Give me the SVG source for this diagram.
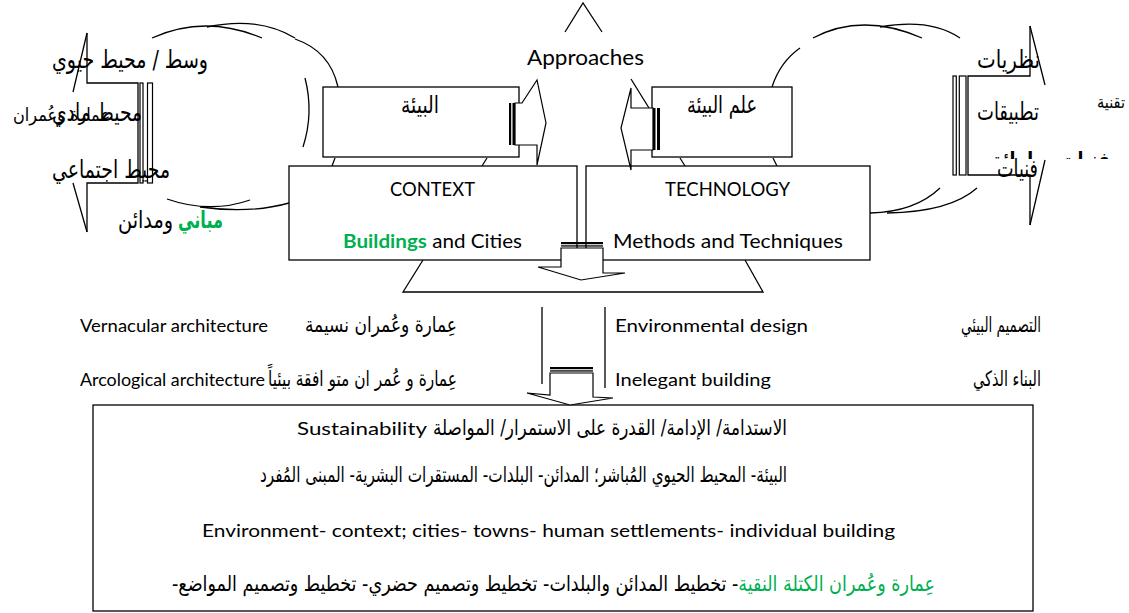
<svg xmlns="http://www.w3.org/2000/svg" width="1129" height="613" viewBox="0 0 1129 613">
<style>
.ln{fill:none;stroke:#000;stroke-width:1.3}
.bx{fill:#fff;stroke:#000;stroke-width:1.3}
.wf{fill:#fff;stroke:#000;stroke-width:1.2}
.st{fill:#000}
.en{font-family:Lato,"Open Sans","Liberation Sans",sans-serif;fill:#000}
.ar{font-family:"DejaVu Sans","Liberation Sans",sans-serif;fill:#000}
.g{fill:#00B050}
.b{font-weight:bold}
</style>
<defs>
<clipPath id="clip-cut"><rect x="980" y="140" width="140" height="19"/></clipPath>
</defs>
<rect x="0" y="0" width="1129" height="613" fill="#fff"/>

<!-- cloud outlines behind the boxes -->
<g id="cloud-left" class="ln">
<path d="M152,38 Q205,14 262,38"/>
<path d="M207,27 Q258,16 295,38"/>
<path d="M295,39 Q330,51 338,87"/>
<path d="M305,78 Q314,113 303,147"/>
<path d="M167,199 Q210,214 250,200"/>
<path d="M200,207 Q250,214 289,203"/>
</g>
<g id="cloud-right" class="ln">
<path d="M813,38 Q862,12 922,38"/>
<path d="M880,27 Q930,18 960,38"/>
<path d="M800,48 Q780,62 772,87"/>
<path d="M870,213 Q915,212 940,188"/>
<path d="M887,213 Q950,212 977,188"/>
</g>
<g id="cloud-centre" class="ln">
<path d="M335,158 L332,166"/>
<path d="M487,158 L482,166"/>
<path d="M680,158 L685,166"/>
<path d="M773,158 L777,166"/>
</g>

<!-- approaches arrow: tip and base -->
<g id="approaches">
<path class="ln" d="M565,32 L583,3 L602,32"/>
<path class="ln" d="M423,260 L403,292 L763,292 L745,260"/>
<text class="en" x="527" y="65" font-size="21" textLength="117" lengthAdjust="spacingAndGlyphs">Approaches</text>
</g>

<!-- left striped arrow with environment labels -->
<g id="node-environment-types">
<path class="ln" d="M87,33 L87,83 L138,83 L138,183 L87,183 L87,232"/>
<path class="ln" d="M87,33 L73,92 M73,183 L87,232"/>
<rect class="wf" x="140" y="83" width="3" height="100"/>
<rect class="wf" x="147.5" y="83" width="5" height="100"/>
<text class="ar" x="208" y="68" font-size="25" text-anchor="end" textLength="156" lengthAdjust="spacingAndGlyphs">وسط / محيط حيوي</text>
<text class="ar" x="110" y="121" font-size="18" text-anchor="end" textLength="97" lengthAdjust="spacingAndGlyphs">عمارة وعُمران</text>
<text class="ar" x="142" y="121" font-size="25" text-anchor="end" textLength="90" lengthAdjust="spacingAndGlyphs">محيط مادي</text>
<text class="ar" x="170" y="178" font-size="25" text-anchor="end" textLength="118" lengthAdjust="spacingAndGlyphs">محيط اجتماعي</text>
<text class="ar g b" x="223" y="228" font-size="24" text-anchor="end" textLength="45" lengthAdjust="spacingAndGlyphs">مباني</text>
<text class="ar" x="173" y="228" font-size="24" text-anchor="end" textLength="55" lengthAdjust="spacingAndGlyphs">ومدائن</text>
</g>

<!-- right striped arrow with technology labels -->
<g id="node-technology-types">
<path class="ln" d="M1030,26 L1030,76 L968,76 L968,175 L1030,175 L1030,225"/>
<path class="ln" d="M1030,26 L1045,85 M1045,160 L1030,225"/>
<rect class="wf" x="953" y="76" width="3.3" height="99"/>
<rect class="wf" x="959.3" y="76" width="6.7" height="99"/>
<text class="ar" x="1040" y="68" font-size="25" text-anchor="end" textLength="63" lengthAdjust="spacingAndGlyphs">نظريات</text>
<text class="ar" x="1039" y="120" font-size="25" text-anchor="end" textLength="62" lengthAdjust="spacingAndGlyphs">تطبيقات</text>
<text class="ar" x="1125" y="108" font-size="17" text-anchor="end" textLength="28" lengthAdjust="spacingAndGlyphs">تقنية</text>
<text class="ar b" x="1110" y="167" font-size="21" text-anchor="end" textLength="123" lengthAdjust="spacingAndGlyphs" clip-path="url(#clip-cut)">فنيات وطرائق</text>
<text class="ar" x="1038" y="177" font-size="25" text-anchor="end" textLength="41" lengthAdjust="spacingAndGlyphs">فنيات</text>
</g>

<!-- environment box -->
<g id="node-environment">
<rect class="bx" x="323" y="87" width="196" height="70"/>
<text class="ar" x="420" y="113" font-size="24" text-anchor="middle" textLength="38" lengthAdjust="spacingAndGlyphs">البيئة</text>
</g>

<!-- environmental science box -->
<g id="node-env-science">
<rect class="bx" x="652" y="87" width="140" height="70"/>
<text class="ar" x="722" y="113" font-size="24" text-anchor="middle" textLength="70" lengthAdjust="spacingAndGlyphs">علم البيئة</text>
</g>

<!-- context box -->
<g id="node-context">
<rect class="bx" x="289" y="166" width="288" height="94"/>
<text class="en" x="390" y="196" font-size="19" textLength="85" lengthAdjust="spacingAndGlyphs">CONTEXT</text>
<text class="en" x="343" y="248" font-size="19" textLength="179" lengthAdjust="spacingAndGlyphs"><tspan class="g b">Buildings</tspan> and Cities</text>
</g>

<!-- technology box -->
<g id="node-technology">
<rect class="bx" x="586" y="166" width="284" height="94"/>
<text class="en" x="665" y="196" font-size="19" textLength="125" lengthAdjust="spacingAndGlyphs">TECHNOLOGY</text>
<text class="en" x="613" y="248" font-size="19" textLength="230" lengthAdjust="spacingAndGlyphs">Methods and Techniques</text>
</g>

<!-- middle term lists -->
<g id="node-terms">
<text class="en" x="80" y="332" font-size="17" textLength="188" lengthAdjust="spacingAndGlyphs">Vernacular architecture</text>
<text class="ar" x="457" y="332" font-size="21" text-anchor="end" textLength="152" lengthAdjust="spacingAndGlyphs">عِمارة وعُمران نسيمة</text>
<text class="en" x="80" y="386" font-size="17" textLength="185" lengthAdjust="spacingAndGlyphs">Arcological architecture</text>
<text class="ar" x="457" y="386" font-size="21" text-anchor="end" textLength="189" lengthAdjust="spacingAndGlyphs">عِمارة و عُمر ان متو افقة بيئياً</text>
<text class="en" x="615" y="332" font-size="17" textLength="193" lengthAdjust="spacingAndGlyphs">Environmental design</text>
<text class="en" x="615" y="386" font-size="17" textLength="156" lengthAdjust="spacingAndGlyphs">Inelegant building</text>
<text class="ar" x="1041" y="332" font-size="21" text-anchor="end" textLength="80" lengthAdjust="spacingAndGlyphs">التصميم البيئي</text>
<text class="ar" x="1041" y="386" font-size="21" text-anchor="end" textLength="68" lengthAdjust="spacingAndGlyphs">البناء الذكي</text>
<path class="ln" d="M542,307 L542,384 M605,307 L605,388"/>
</g>

<!-- sustainability box -->
<g id="node-sustainability">
<rect class="bx" x="93" y="405" width="940" height="206"/>
<text class="en" x="297" y="435" font-size="17" textLength="130" lengthAdjust="spacingAndGlyphs">Sustainability</text>
<text class="ar" x="787" y="435" font-size="21.5" text-anchor="end" textLength="354" lengthAdjust="spacingAndGlyphs">الاستدامة/ الإدامة/ القدرة على الاستمرار/ المواصلة</text>
<text class="ar" x="787" y="482" font-size="21.5" text-anchor="end" textLength="527" lengthAdjust="spacingAndGlyphs">البيئة- المحيط الحيوي المُباشر؛ المدائن- البلدات- المستقرات البشرية- المبنى المُفرد</text>
<text class="en" x="202" y="537" font-size="17" textLength="693" lengthAdjust="spacingAndGlyphs">Environment- context; cities- towns- human settlements- individual building</text>
<text class="ar" x="553.5" y="591" font-size="21.5" direction="rtl" unicode-bidi="embed" text-anchor="middle" textLength="763" lengthAdjust="spacingAndGlyphs"><tspan class="g">عِمارة وعُمران الكتلة النقية</tspan>- تخطيط المدائن والبلدات- تخطيط وتصميم حضري- تخطيط وتصميم المواضع-</text>
</g>

<!-- block arrows linking the parts -->
<g id="connectors">
<polygon class="wf" points="515,103 522,103 537,80 546,123 537,165 537,145 515,145"/>
<rect class="st" x="509" y="103" width="2.2" height="42"/>
<rect class="st" x="512.5" y="103" width="2.5" height="42"/>
<path class="ln" d="M631,79 L649,108"/>
<polygon class="wf" points="653,108 631,108 631,88 621,128 631,170 631,150 653,150"/>
<rect class="st" x="653" y="108" width="2.5" height="42"/>
<rect class="st" x="657" y="108" width="3" height="42"/>
<polygon class="wf" points="561,248 561,267 538,267 581,280 625,273 603,273 603,248"/>
<rect class="st" x="561" y="242" width="42" height="2.2"/>
<rect class="st" x="561" y="245.3" width="42" height="1.3"/>
<polygon class="wf" points="550,373 550,395 527,393 570,405 613,398 593,397 593,373"/>
<rect class="st" x="550" y="367" width="43" height="2.2"/>
<rect class="st" x="550" y="370.3" width="43" height="1.3"/>
</g>
</svg>
